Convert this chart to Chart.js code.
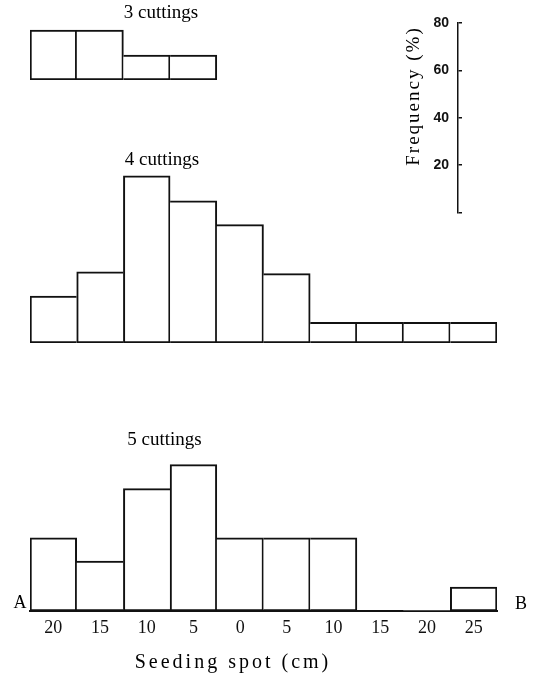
<!DOCTYPE html>
<html><head><meta charset="utf-8">
<script src="https://cdn.jsdelivr.net/npm/chart.js@4/dist/chart.umd.min.js"></script>
<style>
html,body{margin:0;padding:0;background:#fff;}
#wrap{position:relative;width:537px;height:695px;overflow:hidden;background:#fff;}
canvas{position:absolute;}
</style></head><body><div id="wrap">
<canvas id="c3" width="537" height="81" style="left:0;top:0"></canvas>
<canvas id="c4" width="537" height="204" style="left:0;top:140px"></canvas>
<canvas id="c5" width="537" height="275" style="left:0;top:420px"></canvas>
<canvas id="cs" width="100" height="230" style="left:380px;top:0"></canvas>
</div>
<script>
// ---- data ----
const binLabels = ['20', '15', '10', '5', '0', '5', '10', '15', '20', '25'];
const freq3 = [20.8, 20.8, 10.4, 10.4, null, null, null, null, null, null];
const freq4 = [19.6, 29.7, 69.7, 59.2, 49.3, 28.9, 8.6, 8.6, 8.6, 8.6];
const freq5 = [30.5, 20.8, 51.0, 61.0, 30.5, 30.5, 30.5, 0, 0, 10.0];
const scaleTicks = [20, 40, 60, 80];
const panelTitles = ['3 cuttings', '4 cuttings', '5 cuttings'];
const endLabels = ['A', 'B'];
const xTitle = 'Seeding spot (cm)';
const yTitle = 'Frequency (%)';

const SERIF = "'Liberation Serif', 'DejaVu Serif', serif";
const SANS = "'Liberation Sans', Arial, sans-serif";
const LW = 2;

const freeText = {
  id: 'freeText',
  afterDraw(chart, args, opts) {
    const ctx = chart.ctx;
    (opts.items || []).forEach(it => {
      ctx.save();
      ctx.font = it.font;
      ctx.fillStyle = '#000';
      if ('letterSpacing' in ctx) ctx.letterSpacing = (it.spacing || 0) + 'px';
      ctx.textAlign = 'center';
      ctx.textBaseline = 'middle';
      ctx.translate(it.x, it.y);
      if (it.rotate) ctx.rotate(it.rotate);
      ctx.fillText(it.text, 0, 0);
      ctx.restore();
    });
  }
};

// shared edges between adjacent bars are drawn once, by the taller bar (left bar on ties)
function sideWidths(ctx) {
  const d = ctx.dataset.data, i = ctx.dataIndex;
  const cur = d[i] || 0;
  const prev = i > 0 ? d[i - 1] : null;
  const next = i < d.length - 1 ? d[i + 1] : null;
  return {
    top: LW, bottom: LW,
    left: (prev == null || prev < cur) ? LW : 0,
    right: (next == null || next <= cur) ? LW : 0
  };
}

function panel(id, values, yMax, pad, showX, items) {
  return new Chart(document.getElementById(id), {
    type: 'bar',
    data: {
      labels: binLabels,
      datasets: [{
        data: values,
        backgroundColor: '#fff',
        borderColor: '#111',
        borderWidth: sideWidths,
        borderSkipped: false,
        barPercentage: 1,
        categoryPercentage: 1
      }]
    },
    options: {
      responsive: false,
      animation: false,
      layout: {padding: pad},
      plugins: {legend: {display: false}, tooltip: {enabled: false}, freeText: {items}},
      scales: {
        y: {display: false, min: 0, max: yMax},
        x: showX ? {
          display: true,
          grid: {display: false, drawTicks: false},
          border: {display: true, color: '#111', width: 2},
          ticks: {color: '#111', padding: 6, font: {family: SERIF, size: 18}, maxRotation: 0},
          afterFit(s) { s.height = 30; }
        } : {display: false}
      }
    },
    plugins: [freeText]
  });
}

panel('c3', freq3, 25, {left: 30, right: 40, top: 20, bottom: 1}, false,
  [{text: panelTitles[0], x: 161, y: 13, font: '19px ' + SERIF}]);
panel('c4', freq4, 80, {left: 30, right: 40, top: 11, bottom: 1}, false,
  [{text: panelTitles[1], x: 162, y: 20, font: '19px ' + SERIF}]);
panel('c5', freq5, 70, {left: 30, right: 40, top: 23, bottom: 54}, true,
  [{text: panelTitles[2], x: 164.5, y: 20, font: '19px ' + SERIF},
   {text: endLabels[0], x: 20, y: 183, font: '18px ' + SERIF},
   {text: endLabels[1], x: 521, y: 184, font: '18px ' + SERIF},
   {text: xTitle, x: 233, y: 243, font: '20px ' + SERIF, spacing: 3}]);

// frequency scale bar
new Chart(document.getElementById('cs'), {
  type: 'bar',
  data: {labels: [''], datasets: [{data: [null]}]},
  options: {
    responsive: false,
    animation: false,
    layout: {padding: {left: 0, right: 18, top: 23, bottom: 15}},
    plugins: {legend: {display: false}, tooltip: {enabled: false},
      freeText: {items: [{text: yTitle, x: 34, y: 96, font: '19px ' + SERIF, spacing: 2, rotate: -Math.PI / 2}]}},
    scales: {
      x: {display: false},
      y: {
        min: 0, max: 80,
        afterBuildTicks(s) { s.ticks = [0].concat(scaleTicks).map(v => ({value: v})); },
        afterFit(s) { s.width = 78; },
        grid: {drawTicks: false, drawOnChartArea: true, color: '#111', lineWidth: 1.5},
        border: {display: true, color: '#111', width: 1.5},
        ticks: {color: '#111', padding: 9, font: {family: SANS, size: 14, weight: 'bold'},
          callback: v => (scaleTicks.includes(v) ? String(v) : '')}
      }
    }
  },
  plugins: [freeText]
});
</script>
</body></html>
